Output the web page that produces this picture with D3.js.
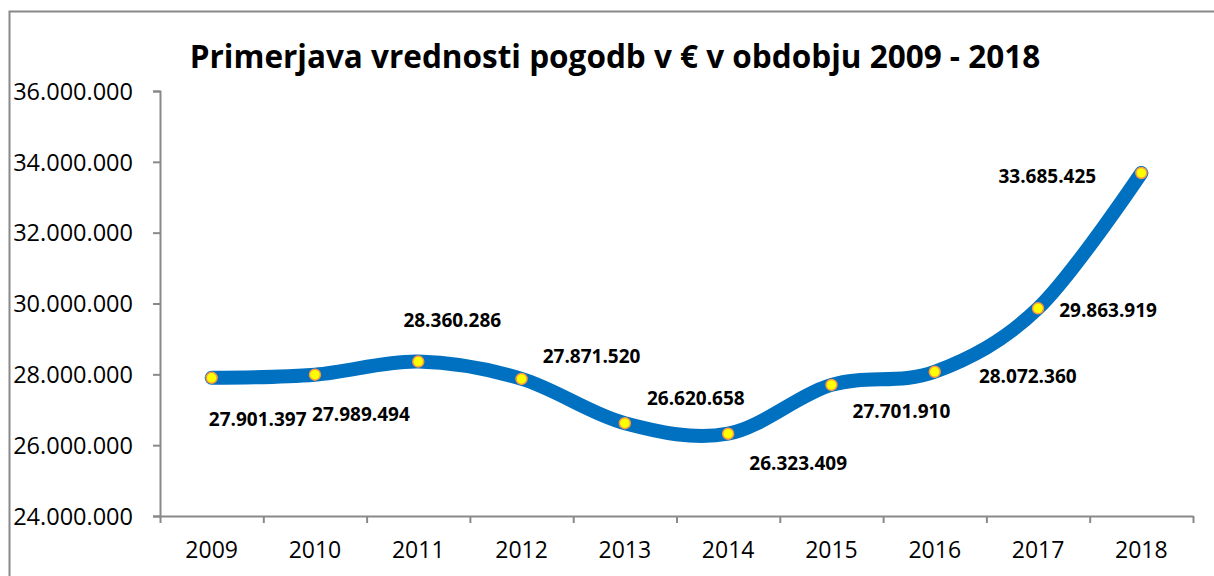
<!DOCTYPE html>
<html>
<head>
<meta charset="utf-8">
<script src="https://cdn.jsdelivr.net/npm/d3@7"></script>
<style>
  body { margin: 0; background: #fff; }
  text { font-family: "Open Sans", Lato, sans-serif; }
</style>
</head>
<body>
<div class="chart"></div>
<script>
// Data
var years = ["2009", "2010", "2011", "2012", "2013", "2014", "2015", "2016", "2017", "2018"];
var values = [27901397, 27989494, 28360286, 27871520, 26620658, 26323409, 27701910, 28072360, 29863919, 33685425];
var yTicks = [24000000, 26000000, 28000000, 30000000, 32000000, 34000000, 36000000];

// label placement relative to each point (dx, dy), as in the original chart
var labelOffsets = [[46, 42], [46, 40], [34, -41], [70, -23], [71, -25], [70, 30], [70, 26], [93, 5], [70, 2], [-94, 3]];

var W = 1214, H = 576;
var margin = {top: 91, right: 21, bottom: 60, left: 160};
var width = W - margin.left - margin.right,
    height = H - margin.top - margin.bottom;

var svg = d3.select(".chart")
  .append("svg")
  .attr("width", W)
  .attr("height", H);

// chart frame (clipped on right and bottom)
svg.append("path")
  .attr("d", "M9.5,576 L9.5,11.5 L1214,11.5")
  .attr("fill", "none")
  .attr("stroke", "#898989")
  .attr("stroke-width", 2);

var g = svg.append("g")
  .attr("transform", "translate(" + margin.left + "," + margin.top + ")");

var x = d3.scaleBand()
  .domain(years)
  .range([0, width]);

var y = d3.scaleLinear()
  .domain([24000000, 36000000])
  .range([height, 0]);

var fmt = function(v) { return d3.format(",")(v).replace(/,/g, "."); };

// y axis
var yAxis = g.append("g")
  .call(d3.axisLeft(y).tickValues(yTicks).tickSize(7).tickPadding(20).tickFormat(fmt));
yAxis.selectAll("text")
  .attr("font-size", "23.5px")
  .attr("fill", "#000")
  .attr("dy", "0.35em");

// x axis
var xAxis = g.append("g")
  .attr("transform", "translate(0," + height + ")")
  .call(d3.axisBottom(x).tickSize(0).tickPadding(26));
xAxis.selectAll("text")
  .attr("font-size", "23px")
  .attr("fill", "#000");
// band boundary ticks
xAxis.selectAll(".bound")
  .data(d3.range(years.length + 1))
  .enter()
  .append("line")
  .attr("x1", function(i) { return i * x.bandwidth() + 0.5; })
  .attr("x2", function(i) { return i * x.bandwidth() + 0.5; })
  .attr("y1", 0)
  .attr("y2", 7)
  .attr("stroke", "#898989")
  .attr("stroke-width", 2);

svg.selectAll(".domain")
  .attr("stroke", "#898989")
  .attr("stroke-width", 2);
yAxis.selectAll(".tick line")
  .attr("stroke", "#898989")
  .attr("stroke-width", 2);

// title
svg.append("text")
  .attr("x", 615)
  .attr("y", 68)
  .attr("text-anchor", "middle")
  .attr("font-size", "31.5px")
  .attr("font-weight", "bold")
  .attr("fill", "#000")
  .text("Primerjava vrednosti pogodb v € v obdobju 2009 - 2018");

// smoothed line
var cx = function(i) { return x(years[i]) + x.bandwidth() / 2; };
var line = d3.line()
  .x(function(d, i) { return cx(i); })
  .y(function(d) { return y(d); })
  .curve(d3.curveCardinal.tension(0));

g.append("path")
  .datum(values)
  .attr("d", line)
  .attr("fill", "none")
  .attr("stroke", "#0070C0")
  .attr("stroke-width", 14)
  .attr("stroke-linecap", "round");

// markers
g.selectAll(".dot")
  .data(values)
  .enter()
  .append("circle")
  .attr("cx", function(d, i) { return cx(i); })
  .attr("cy", function(d) { return y(d); })
  .attr("r", 5.5)
  .attr("fill", "#FFFF00")
  .attr("stroke", "#F79646")
  .attr("stroke-width", 1.5);

// data labels
g.selectAll(".lbl")
  .data(values)
  .enter()
  .append("text")
  .attr("x", function(d, i) { return cx(i) + labelOffsets[i][0]; })
  .attr("y", function(d, i) { return y(d) + labelOffsets[i][1]; })
  .attr("dy", "0.35em")
  .attr("text-anchor", "middle")
  .attr("font-size", "19px")
  .attr("font-weight", "bold")
  .attr("fill", "#000")
  .text(fmt);
</script>
</body>
</html>
